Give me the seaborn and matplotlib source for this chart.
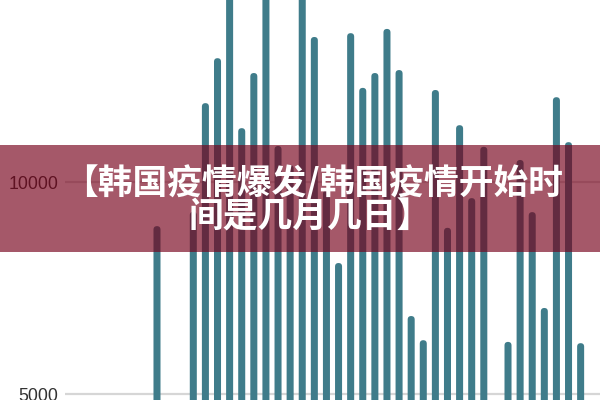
import matplotlib
matplotlib.use("Agg")
import matplotlib.pyplot as plt
from matplotlib.patches import FancyBboxPatch, Rectangle
import seaborn as sns

# daily counts (only the window between ~4900 and ~14300 is visible)
days = list(range(1, 37))
cases = [8960, 4500, 4500, 9300, 11860, 12920, 14800, 11270, 12570, 15000,
         10850, 10400, 14900, 13420, 9800, 8090, 13510, 12220, 12570, 13610,
         12640, 6840, 6270, 12170, 8920, 11340, 9620, 10830, 4600, 6230,
         10520, 9290, 7030, 12000, 10940, 6200]
yticks = [5000, 10000]
title_lines = ["【韩国疫情爆发/韩国疫情开始时", "间是几月几日】"]

sns.set_style("white")
plt.rcParams['font.family'] = ['Liberation Sans', 'DejaVu Sans']

fig = plt.figure(figsize=(6, 4), dpi=100)
ax = fig.add_axes([65 / 600, 0, 535 / 600, 1])

sns.barplot(x=days, y=cases, color="#3f7c8a", saturation=1, width=0.58, ax=ax)

# rounded bar tops
for p in list(ax.patches):
    x, y0, w, h = p.get_x(), p.get_y(), p.get_width(), p.get_height()
    fb = FancyBboxPatch((x, y0), w, h, boxstyle=f"round,pad=0,rounding_size={w/2}",
                        mutation_aspect=285, facecolor="#3f7c8a", edgecolor="none", zorder=2)
    p.remove()
    ax.add_patch(fb)

ax.set_xlim(-7.6, 36.6)
ax.set_ylim(4860, 14292)
ax.set_yticks(yticks)
ax.set_yticklabels([str(t) for t in yticks], fontsize=12.8, color="#333333")
ax.tick_params(axis="y", length=0, pad=5)
ax.set_xticks([])
ax.grid(axis="y", color="#d6d6d6", lw=1.6, zorder=0)
ax.set_axisbelow(True)
sns.despine(ax=ax, left=True, bottom=True)

# overlay banner
fig.patches.append(Rectangle((0, 1 - 252 / 400), 1, 107 / 400, transform=fig.transFigure,
                             facecolor="#77021b", alpha=0.66, edgecolor="none", zorder=5))
cjk = ['Noto Sans CJK SC', 'DejaVu Sans']
fig.text(0.522, 1 - 183 / 400, title_lines[0], ha="center", va="center", color="white",
         fontsize=25, fontweight="heavy", family=cjk, zorder=6)
fig.text(0.517, 1 - 217 / 400, title_lines[1], ha="center", va="center", color="white",
         fontsize=25, fontweight="heavy", family=cjk, zorder=6)

fig.savefig("out.png", dpi=100)
